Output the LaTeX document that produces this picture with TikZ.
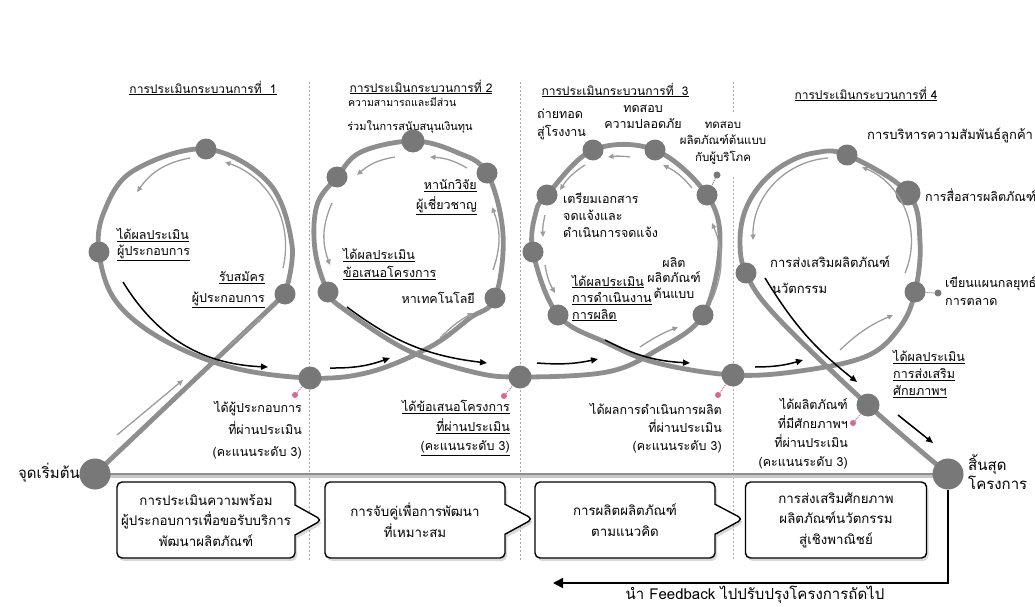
\documentclass[tikz,border=0pt]{standalone}
\usepackage{fontspec}
\setmainfont[Script=Thai]{Loma}
\usetikzlibrary{arrows.meta,shapes.callouts,shadows}
\definecolor{loopc}{HTML}{8E8E8E}
\definecolor{nodec}{HTML}{787878}
\definecolor{flowc}{HTML}{9C9C9C}
\definecolor{pinkc}{HTML}{D46A92}
\definecolor{sepc}{HTML}{A8A8A8}
\newcommand\tfs[2]{\fontsize{#1}{#2}\selectfont}
\newcommand\ulin[1]{\underline{#1}}
\begin{document}
\begin{tikzpicture}[x=1pt,y=-1pt,
  loopline/.style={loopc, line width=4.8pt, line cap=round, line join=round},
  dot/.style={circle, fill=nodec, inner sep=0pt, minimum size=21pt},
  mdot/.style={dot, minimum size=23pt},
  bdot/.style={dot, minimum size=31pt},
  pdot/.style={circle, fill=pinkc, inner sep=0pt, minimum size=6pt},
  gdot/.style={circle, fill=nodec, inner sep=0pt, minimum size=7pt},
  pline/.style={pinkc, densely dotted, line width=1pt},
  gline/.style={nodec, densely dotted, line width=1pt},
  flow/.style={flowc, line width=1.3pt, -{Triangle[length=5.5pt,width=5pt]}},
  blk/.style={black, line width=1.5pt, -{Triangle[length=7pt,width=6pt]}},
  sep/.style={sepc, dash pattern=on 2pt off 2pt, line width=0.7pt},
  lbl/.style={inner sep=0pt, font=\tfs{12.5}{17}},
  box/.style={draw=black, line width=1.4pt, fill=white, rounded corners=5pt, minimum width=180pt, minimum height=76pt, align=center, inner sep=2pt, font=\tfs{13.3}{20.5}, drop shadow={opacity=0.3, shadow xshift=2pt, shadow yshift=-3pt}},
  cbox/.style={box, rectangle callout, callout pointer width=30pt}
]
\path[use as bounding box] (0,0) rectangle (1035,607);

% separators
\draw[sep] (309,82) -- (309,560);
\draw[sep] (520,82) -- (520,560);
\draw[sep] (733,82) -- (733,113);
\draw[sep] (733,177) -- (733,560);

% key points
\coordinate (S) at (95,474);
\coordinate (E) at (948,474);
\coordinate (A1) at (285,294);
\coordinate (A2) at (206,149);
\coordinate (A3) at (99,252);
\coordinate (M1) at (310,378);
\coordinate (B1) at (495,298);
\coordinate (B2) at (487,173);
\coordinate (B3) at (413,141);
\coordinate (B4) at (337,177);
\coordinate (B5) at (328,292);
\coordinate (M2) at (520,377);
\coordinate (C1) at (703,315);
\coordinate (C2) at (707,195);
\coordinate (C3) at (655,150);
\coordinate (C4) at (593,150);
\coordinate (C5) at (547,195);
\coordinate (C6) at (533,252);
\coordinate (C7) at (558,315);
\coordinate (M3) at (733,375);
\coordinate (D1) at (915,292);
\coordinate (D2) at (908,193);
\coordinate (D3) at (847,155);
\coordinate (D4) at (746,273);
\coordinate (M4) at (868,405);

% baseline
\draw[color=black!22, line width=2.5pt] ([yshift=-2.4pt]S) -- ([yshift=-2.4pt]E);
\draw[color=loopc, line width=2.5pt] (S) -- (E);

% main path
\draw[loopline] (S) -- (A1);
\draw[loopline] plot[smooth, tension=0.6] coordinates {(A1) (292,245) (269,183) (A2) (133,171) (104,212) (A3) (115,300) (160,338) (230,367) (M1) (370,372) (430,347) (470,318) (B1) (503,234) (B2) (456,152) (B3) (361,152) (B4) (317,205) (315,250) (B5) (345,310) (407,350) (473,372) (M2) (607,372) (657,350) (C1) (720,245) (C2) (C3) (C4) (C5) (536,212) (C6) (C7) (607,343) (657,363) (M3) (800,371) (867,356) (900,327) (D1) (920,242) (D2) (D3) (814,153) (785,164) (761,184) (745,211) (740,242) (D4) (775,315) (M4) (E)};

% dots
\node[bdot] (st) at (S) {};
\node[bdot] (en) at (E) {};
\node[dot] (n1c) at (A1) {};
\node[dot] (n1a) at (A2) {};
\node[dot] (n1b) at (A3) {};
\node[mdot] (m1) at (M1) {};
\node[dot] (n2e) at (B1) {};
\node[dot] (n2d) at (B2) {};
\node[mdot] (n2c) at (B3) {};
\node[dot] (n2b) at (B4) {};
\node[dot] (n2a) at (B5) {};
\node[mdot] (m2) at (M2) {};
\node[dot] (n3a) at (C1) {};
\node[dot] (n3b) at (C2) {};
\node[dot] (n3c) at (C3) {};
\node[dot] (n3d) at (C4) {};
\node[dot] (n3e) at (C5) {};
\node[dot] (n3f) at (C6) {};
\node[dot] (n3g) at (C7) {};
\node[mdot] (m3) at (M3) {};
\node[dot] (n4a) at (D1) {};
\node[dot, minimum size=25pt] (n4b) at (D2) {};
\node[dot] (n4c) at (D3) {};
\node[dot] (n4d) at (D4) {};
\node[mdot] (m4) at (M4) {};

% small dots
\node[pdot] (q1) at (295,395) {};
\node[pdot] (q2) at (504,396) {};
\node[pdot] (q3) at (718,395) {};
\node[pdot] (q4) at (853,423) {};
\draw[pline] (q1) -- (m1);
\draw[pline] (q2) -- (m2);
\draw[pline] (q3) -- (m3);
\draw[pline] (q4) -- (m4);
\node[gdot] (g3) at (717,175) {};
\node[gdot] (g4) at (938,293) {};
\draw[gline] (g3) -- (n3b);
\draw[gline] (g4) -- (n4a);

% inner flow arrows
\draw[flow] (283,268) to[bend right=42] (225,162);
\draw[flow] (190,158) to[bend right=22] (137,192);
\draw[flow] (493,270) to[bend right=20] (492,207);
\draw[flow] (467,168) to[bend right=13] (430,157);
\draw[flow] (395,157) to[bend right=16] (357,175);
\draw[flow] (332,203) to[bend right=22] (330,265);
\draw[flow] (712,300) to[bend right=23] (712,223);
\draw[flow] (692,188) to[bend right=12] (663,165);
\draw[flow] (630,157) to[bend right=7] (608,157);
\draw[flow] (585,165) to[bend right=12] (560,190);
\draw[flow] (545,215) to[bend right=8] (543,237);
\draw[flow] (545,265) to[bend right=10] (555,293);
\draw[flow] (905,273) to[bend right=45] (862,167);
\draw[flow] (828,158) to[bend right=43] (753,240);
% outer flow arrows
\draw[flow] (117,435) -- (183,380);
\draw[flow] (228,347) -- (262,317);
\draw[flow] (440,338) to[bend left=8] (473,313);
\draw[flow] (640,347) to[bend left=6] (678,327);
\draw[flow] (840,350) to[bend left=10] (893,315);

% black arrows
\draw[blk] (123,282) to[bend right=28] (268,367);
\draw[blk] (330,368) to[bend right=10] (390,358);
\draw[blk] (347,307) to[bend right=15] (487,363);
\draw[blk] (537,363) to[bend right=8] (598,359);
\draw[blk] (605,340) to[bend right=12] (690,363);
\draw[blk] (755,367) to[bend right=8] (803,360);
\draw[blk] (765,278) to[bend right=10] (857,382);
\draw[blk] (898,415) -- (933,443);

% headers
\node[lbl, font=\tfs{12}{14}] (h1) at (203,88) {\ulin{การประเมินกระบวนการที่~~1}};
\node[lbl, font=\tfs{12}{14}] (h2) at (421,87) {\ulin{การประเมินกระบวนการที่ 2}};
\node[lbl, font=\tfs{12}{14}] (h3) at (615,90) {\ulin{การประเมินกระบวนการที่~~3}};
\node[lbl, font=\tfs{12}{14}] (h4) at (866,94) {\ulin{การประเมินกระบวนการที่ 4}};

% loop 1 labels
\node[lbl, anchor=west, align=left, font=\tfs{12.5}{16}] (l1a) at (117,245) {\ulin{ได้ผลประเมิน}\\\ulin{ผู้ประกอบการ}};
\node[lbl, anchor=east] (l1b) at (265,278) {\ulin{รับสมัคร}};
\node[lbl, anchor=east] (l1c) at (265,300) {\ulin{ผู้ประกอบการ}};
\node[lbl, anchor=east, align=right, font=\tfs{12.5}{22}] (l1d) at (302,430) {ได้ผู้ประกอบการ\\ที่ผ่านประเมิน\\(คะแนนระดับ 3)};

% loop 2 labels
\node[lbl, anchor=west, font=\tfs{10.5}{14}] (l2a) at (348,102) {ความสามารถและมีส่วน};
\node[lbl, font=\tfs{11}{14}] (l2b) at (410,127) {ร่วมในการสนับสนุนเงินทุน};
\node[lbl, anchor=east, align=right, font=\tfs{12.5}{20}] (l2c) at (477,197) {\ulin{หานักวิจัย}\\\ulin{ผู้เชี่ยวชาญ}};
\node[lbl, anchor=west, align=left, font=\tfs{12.5}{18}] (l2d) at (343,264) {\ulin{ได้ผลประเมิน}\\\ulin{ข้อเสนอโครงการ}};
\node[lbl, anchor=east] (l2e) at (475,298) {หาเทคโนโลยี};
\node[lbl, anchor=east, align=right, font=\tfs{12.5}{19.5}] (l2f) at (510,428) {\ulin{ได้ข้อเสนอโครงการ}\\\ulin{ที่ผ่านประเมิน}\\\ulin{(คะแนนระดับ 3)}};

% loop 3 labels
\node[lbl, anchor=west, align=left, font=\tfs{12.5}{18}] (l3a) at (537,124) {ถ่ายทอด\\สู่โรงงาน};
\node[lbl, align=center, font=\tfs{12.5}{15.5}] (l3b) at (643,117) {ทดสอบ\\ความปลอดภัย};
\node[lbl, align=center, font=\tfs{11.5}{16.5}] (l3c) at (723,143) {ทดสอบ\\ผลิตภัณฑ์ต้นแบบ\\กับผู้บริโภค};
\node[lbl, anchor=west, align=left, font=\tfs{12.5}{17}] (l3d) at (563,215) {เตรียมเอกสาร\\จดแจ้งและ\\ดำเนินการจดแจ้ง};
\node[lbl, align=center, font=\tfs{12.5}{15.5}] (l3e) at (674,278) {ผลิต\\ผลิตภัณฑ์\\ต้นแบบ};
\node[lbl, anchor=west, align=left, font=\tfs{12.5}{16.5}] (l3f) at (572,298) {\ulin{ได้ผลประเมิน}\\\ulin{การดำเนินงาน}\\\ulin{การผลิต}};
\node[lbl, anchor=east, align=right, font=\tfs{12.5}{18}] (l3g) at (722,428) {ได้ผลการดำเนินการผลิต\\ที่ผ่านประเมิน\\(คะแนนระดับ 3)};

% loop 4 labels
\node[lbl, anchor=west, font=\tfs{13}{17}] (l4a) at (867,135) {การบริหารความสัมพันธ์ลูกค้า};
\node[lbl, anchor=west] (l4b) at (925,195) {การสื่อสารผลิตภัณฑ์};
\node[lbl, anchor=west, font=\tfs{13}{17}] (l4c) at (770,262) {การส่งเสริมผลิตภัณฑ์};
\node[lbl, anchor=west, font=\tfs{13}{17}] (l4d) at (772,288) {นวัตกรรม};
\node[lbl, anchor=west, align=left, font=\tfs{12.5}{18}] (l4e) at (945,291) {เขียนแผนกลยุทธ์\\การตลาด};
\node[lbl, anchor=west, align=left, font=\tfs{12.5}{17}] (l4f) at (893,374) {\ulin{ได้ผลประเมิน}\\\ulin{การส่งเสริม}\\\ulin{ศักยภาพฯ}};
\node[lbl, anchor=east, align=right, font=\tfs{12.5}{19}] (l4g) at (848,434) {ได้ผลิตภัณฑ์\\ที่มีศักยภาพฯ\\ที่ผ่านประเมิน\\(คะแนนระดับ 3)};

% start / end labels
\node[lbl, anchor=east, font=\tfs{15}{18}] (sl) at (80,473) {จุดเริ่มต้น};
\node[lbl, anchor=west, align=left, font=\tfs{15}{19}] (el) at (968,472) {สิ้นสุด\\โครงการ};

% boxes
\node[cbox, minimum width=178pt, callout absolute pointer={(322,520)}] (bx1) at (206,520) {การประเมินความพร้อม\\ผู้ประกอบการเพื่อขอรับบริการ\\พัฒนาผลิตภัณฑ์};
\node[cbox, callout absolute pointer={(533,519)}] (bx2) at (415,520) {การจับคู่เพื่อการพัฒนา\\ที่เหมาะสม};
\node[cbox, callout absolute pointer={(743,519)}] (bx3) at (625,520) {การผลิตผลิตภัณฑ์\\ตามแนวคิด};
\node[box, minimum width=181pt] (bx4) at (836,520) {การส่งเสริมศักยภาพ\\ผลิตภัณฑ์นวัตกรรม\\สู่เชิงพาณิชย์};

% feedback
\coordinate (fb) at (553,583);
\draw[black, line width=1.6pt, -{Triangle[length=10pt,width=10pt]}] (en.south) |- (fb);
\node[lbl, font=\tfs{15}{17}] (fbl) at (755,595) {นำ Feedback ไปปรับปรุงโครงการถัดไป};
\end{tikzpicture}
\end{document}
